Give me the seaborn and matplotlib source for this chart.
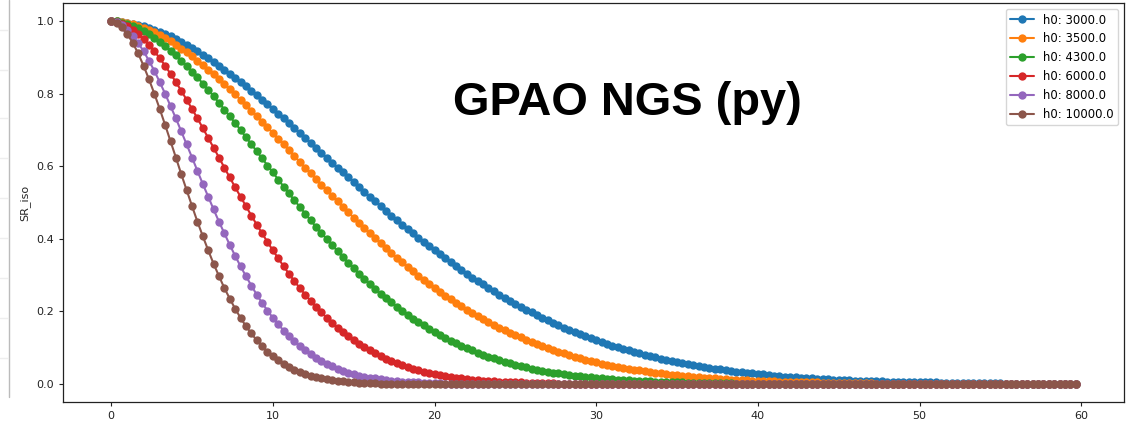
import numpy as np
import pandas as pd
import matplotlib
matplotlib.use("Agg")
import matplotlib.pyplot as plt
from matplotlib.lines import Line2D
import seaborn as sns

# angular separation grid (step 1/3), 180 samples
angles = np.arange(180) / 3.0

h0_labels = ["h0: 3000.0", "h0: 3500.0", "h0: 4300.0", "h0: 6000.0", "h0: 8000.0", "h0: 10000.0"]

sr_h3000 = [
    1.000, 0.999, 0.998, 0.996, 0.993, 0.990, 0.986, 0.981, 0.976, 0.971,
    0.964, 0.958, 0.950, 0.943, 0.935, 0.926, 0.917, 0.908, 0.898, 0.888,
    0.877, 0.866, 0.855, 0.844, 0.832, 0.820, 0.808, 0.796, 0.783, 0.771,
    0.758, 0.745, 0.732, 0.718, 0.705, 0.691, 0.678, 0.664, 0.651, 0.637,
    0.624, 0.610, 0.596, 0.583, 0.569, 0.556, 0.542, 0.529, 0.516, 0.503,
    0.490, 0.477, 0.464, 0.452, 0.439, 0.427, 0.415, 0.403, 0.391, 0.379,
    0.368, 0.357, 0.346, 0.335, 0.324, 0.314, 0.303, 0.293, 0.283, 0.274,
    0.264, 0.255, 0.246, 0.238, 0.229, 0.221, 0.213, 0.205, 0.197, 0.189,
    0.182, 0.175, 0.168, 0.162, 0.155, 0.149, 0.143, 0.137, 0.131, 0.126,
    0.120, 0.115, 0.110, 0.105, 0.101, 0.096, 0.092, 0.088, 0.084, 0.080,
    0.076, 0.073, 0.069, 0.066, 0.063, 0.060, 0.057, 0.054, 0.051, 0.049,
    0.046, 0.044, 0.042, 0.040, 0.038, 0.036, 0.034, 0.032, 0.030, 0.029,
    0.027, 0.026, 0.024, 0.023, 0.022, 0.020, 0.019, 0.018, 0.017, 0.016,
    0.015, 0.014, 0.014, 0.013, 0.012, 0.011, 0.011, 0.010, 0.009, 0.009,
    0.008, 0.008, 0.007, 0.007, 0.006, 0.006, 0.006, 0.005, 0.005, 0.005,
    0.004, 0.004, 0.004, 0.004, 0.003, 0.003, 0.003, 0.003, 0.002, 0.002,
    0.002, 0.002, 0.002, 0.002, 0.002, 0.002, 0.001, 0.001, 0.001, 0.001,
    0.001, 0.001, 0.001, 0.001, 0.001, 0.001, 0.001, 0.001, 0.001, 0.001,
]

sr_h3500 = [
    1.000, 0.999, 0.998, 0.995, 0.991, 0.987, 0.981, 0.975, 0.969, 0.961,
    0.953, 0.944, 0.935, 0.924, 0.914, 0.903, 0.891, 0.879, 0.866, 0.853,
    0.840, 0.826, 0.812, 0.798, 0.783, 0.769, 0.753, 0.738, 0.723, 0.707,
    0.691, 0.676, 0.660, 0.644, 0.628, 0.612, 0.596, 0.581, 0.565, 0.549,
    0.534, 0.518, 0.503, 0.488, 0.473, 0.458, 0.443, 0.429, 0.415, 0.401,
    0.387, 0.374, 0.360, 0.347, 0.335, 0.322, 0.310, 0.298, 0.287, 0.275,
    0.264, 0.254, 0.243, 0.233, 0.223, 0.214, 0.205, 0.196, 0.187, 0.179,
    0.171, 0.163, 0.155, 0.148, 0.141, 0.134, 0.128, 0.121, 0.115, 0.109,
    0.104, 0.099, 0.093, 0.089, 0.084, 0.079, 0.075, 0.071, 0.067, 0.063,
    0.060, 0.056, 0.053, 0.050, 0.047, 0.045, 0.042, 0.039, 0.037, 0.035,
    0.033, 0.031, 0.029, 0.027, 0.025, 0.024, 0.022, 0.021, 0.019, 0.018,
    0.017, 0.016, 0.015, 0.014, 0.013, 0.012, 0.011, 0.010, 0.010, 0.009,
    0.008, 0.008, 0.007, 0.007, 0.006, 0.006, 0.005, 0.005, 0.005, 0.004,
    0.004, 0.004, 0.003, 0.003, 0.003, 0.003, 0.002, 0.002, 0.002, 0.002,
    0.002, 0.002, 0.001, 0.001, 0.001, 0.001, 0.001, 0.001, 0.001, 0.001,
    0.001, 0.001, 0.001, 0.001, 0.0, 0.0, 0.0, 0.0, 0.0, 0.0,
    0.0, 0.0, 0.0, 0.0, 0.0, 0.0, 0.0, 0.0, 0.0, 0.0,
    0.0, 0.0, 0.0, 0.0, 0.0, 0.0, 0.0, 0.0, 0.0, 0.0,
]

sr_h4300 = [
    1.000, 0.999, 0.996, 0.992, 0.987, 0.981, 0.973, 0.964, 0.954, 0.943,
    0.932, 0.919, 0.906, 0.891, 0.876, 0.861, 0.845, 0.828, 0.811, 0.793,
    0.775, 0.756, 0.738, 0.719, 0.700, 0.680, 0.661, 0.641, 0.622, 0.602,
    0.583, 0.563, 0.544, 0.525, 0.506, 0.488, 0.469, 0.451, 0.433, 0.416,
    0.399, 0.382, 0.366, 0.350, 0.334, 0.319, 0.304, 0.290, 0.276, 0.262,
    0.249, 0.237, 0.225, 0.213, 0.202, 0.191, 0.180, 0.170, 0.161, 0.152,
    0.143, 0.134, 0.126, 0.119, 0.112, 0.105, 0.098, 0.092, 0.086, 0.080,
    0.075, 0.070, 0.065, 0.061, 0.057, 0.053, 0.049, 0.046, 0.042, 0.039,
    0.036, 0.034, 0.031, 0.029, 0.027, 0.025, 0.023, 0.021, 0.019, 0.018,
    0.016, 0.015, 0.014, 0.013, 0.011, 0.011, 0.010, 0.009, 0.008, 0.007,
    0.007, 0.006, 0.006, 0.005, 0.005, 0.004, 0.004, 0.003, 0.003, 0.003,
    0.003, 0.002, 0.002, 0.002, 0.002, 0.002, 0.001, 0.001, 0.001, 0.001,
    0.001, 0.001, 0.001, 0.001, 0.001, 0.001, 0.0, 0.0, 0.0, 0.0,
    0.0, 0.0, 0.0, 0.0, 0.0, 0.0, 0.0, 0.0, 0.0, 0.0,
    0.0, 0.0, 0.0, 0.0, 0.0, 0.0, 0.0, 0.0, 0.0, 0.0,
    0.0, 0.0, 0.0, 0.0, 0.0, 0.0, 0.0, 0.0, 0.0, 0.0,
    0.0, 0.0, 0.0, 0.0, 0.0, 0.0, 0.0, 0.0, 0.0, 0.0,
    0.0, 0.0, 0.0, 0.0, 0.0, 0.0, 0.0, 0.0, 0.0, 0.0,
]

sr_h6000 = [
    1.000, 0.998, 0.993, 0.986, 0.976, 0.964, 0.950, 0.935, 0.917, 0.898,
    0.877, 0.855, 0.832, 0.808, 0.783, 0.758, 0.732, 0.705, 0.678, 0.651,
    0.624, 0.596, 0.569, 0.542, 0.516, 0.490, 0.464, 0.439, 0.415, 0.391,
    0.368, 0.346, 0.324, 0.303, 0.283, 0.264, 0.246, 0.229, 0.213, 0.197,
    0.182, 0.168, 0.155, 0.143, 0.131, 0.120, 0.110, 0.101, 0.092, 0.084,
    0.076, 0.069, 0.063, 0.057, 0.051, 0.046, 0.042, 0.038, 0.034, 0.030,
    0.027, 0.024, 0.022, 0.019, 0.017, 0.015, 0.014, 0.012, 0.011, 0.009,
    0.008, 0.007, 0.006, 0.006, 0.005, 0.004, 0.004, 0.003, 0.003, 0.002,
    0.002, 0.002, 0.002, 0.001, 0.001, 0.001, 0.001, 0.001, 0.001, 0.001,
    0.0, 0.0, 0.0, 0.0, 0.0, 0.0, 0.0, 0.0, 0.0, 0.0,
    0.0, 0.0, 0.0, 0.0, 0.0, 0.0, 0.0, 0.0, 0.0, 0.0,
    0.0, 0.0, 0.0, 0.0, 0.0, 0.0, 0.0, 0.0, 0.0, 0.0,
    0.0, 0.0, 0.0, 0.0, 0.0, 0.0, 0.0, 0.0, 0.0, 0.0,
    0.0, 0.0, 0.0, 0.0, 0.0, 0.0, 0.0, 0.0, 0.0, 0.0,
    0.0, 0.0, 0.0, 0.0, 0.0, 0.0, 0.0, 0.0, 0.0, 0.0,
    0.0, 0.0, 0.0, 0.0, 0.0, 0.0, 0.0, 0.0, 0.0, 0.0,
    0.0, 0.0, 0.0, 0.0, 0.0, 0.0, 0.0, 0.0, 0.0, 0.0,
    0.0, 0.0, 0.0, 0.0, 0.0, 0.0, 0.0, 0.0, 0.0, 0.0,
]

sr_h8000 = [
    1.000, 0.997, 0.989, 0.976, 0.960, 0.940, 0.917, 0.891, 0.863, 0.832,
    0.800, 0.766, 0.732, 0.696, 0.660, 0.624, 0.587, 0.551, 0.516, 0.481,
    0.447, 0.415, 0.383, 0.353, 0.324, 0.297, 0.271, 0.246, 0.223, 0.202,
    0.182, 0.164, 0.147, 0.131, 0.117, 0.104, 0.092, 0.081, 0.072, 0.063,
    0.055, 0.048, 0.042, 0.036, 0.031, 0.027, 0.023, 0.020, 0.017, 0.015,
    0.013, 0.011, 0.009, 0.008, 0.006, 0.005, 0.005, 0.004, 0.003, 0.003,
    0.002, 0.002, 0.001, 0.001, 0.001, 0.001, 0.001, 0.001, 0.0, 0.0,
    0.0, 0.0, 0.0, 0.0, 0.0, 0.0, 0.0, 0.0, 0.0, 0.0,
    0.0, 0.0, 0.0, 0.0, 0.0, 0.0, 0.0, 0.0, 0.0, 0.0,
    0.0, 0.0, 0.0, 0.0, 0.0, 0.0, 0.0, 0.0, 0.0, 0.0,
    0.0, 0.0, 0.0, 0.0, 0.0, 0.0, 0.0, 0.0, 0.0, 0.0,
    0.0, 0.0, 0.0, 0.0, 0.0, 0.0, 0.0, 0.0, 0.0, 0.0,
    0.0, 0.0, 0.0, 0.0, 0.0, 0.0, 0.0, 0.0, 0.0, 0.0,
    0.0, 0.0, 0.0, 0.0, 0.0, 0.0, 0.0, 0.0, 0.0, 0.0,
    0.0, 0.0, 0.0, 0.0, 0.0, 0.0, 0.0, 0.0, 0.0, 0.0,
    0.0, 0.0, 0.0, 0.0, 0.0, 0.0, 0.0, 0.0, 0.0, 0.0,
    0.0, 0.0, 0.0, 0.0, 0.0, 0.0, 0.0, 0.0, 0.0, 0.0,
    0.0, 0.0, 0.0, 0.0, 0.0, 0.0, 0.0, 0.0, 0.0, 0.0,
]

sr_h10000 = [
    1.000, 0.995, 0.983, 0.964, 0.940, 0.911, 0.877, 0.840, 0.800, 0.758,
    0.714, 0.669, 0.624, 0.578, 0.534, 0.490, 0.447, 0.407, 0.368, 0.331,
    0.297, 0.264, 0.235, 0.207, 0.182, 0.159, 0.139, 0.120, 0.104, 0.089,
    0.076, 0.065, 0.055, 0.046, 0.039, 0.033, 0.027, 0.023, 0.019, 0.015,
    0.013, 0.010, 0.008, 0.007, 0.005, 0.004, 0.003, 0.003, 0.002, 0.002,
    0.001, 0.001, 0.001, 0.001, 0.0, 0.0, 0.0, 0.0, 0.0, 0.0,
    0.0, 0.0, 0.0, 0.0, 0.0, 0.0, 0.0, 0.0, 0.0, 0.0,
    0.0, 0.0, 0.0, 0.0, 0.0, 0.0, 0.0, 0.0, 0.0, 0.0,
    0.0, 0.0, 0.0, 0.0, 0.0, 0.0, 0.0, 0.0, 0.0, 0.0,
    0.0, 0.0, 0.0, 0.0, 0.0, 0.0, 0.0, 0.0, 0.0, 0.0,
    0.0, 0.0, 0.0, 0.0, 0.0, 0.0, 0.0, 0.0, 0.0, 0.0,
    0.0, 0.0, 0.0, 0.0, 0.0, 0.0, 0.0, 0.0, 0.0, 0.0,
    0.0, 0.0, 0.0, 0.0, 0.0, 0.0, 0.0, 0.0, 0.0, 0.0,
    0.0, 0.0, 0.0, 0.0, 0.0, 0.0, 0.0, 0.0, 0.0, 0.0,
    0.0, 0.0, 0.0, 0.0, 0.0, 0.0, 0.0, 0.0, 0.0, 0.0,
    0.0, 0.0, 0.0, 0.0, 0.0, 0.0, 0.0, 0.0, 0.0, 0.0,
    0.0, 0.0, 0.0, 0.0, 0.0, 0.0, 0.0, 0.0, 0.0, 0.0,
    0.0, 0.0, 0.0, 0.0, 0.0, 0.0, 0.0, 0.0, 0.0, 0.0,
]

series_values = [sr_h3000, sr_h3500, sr_h4300, sr_h6000, sr_h8000, sr_h10000]
colors = ["#1f77b4", "#ff7f0e", "#2ca02c", "#d62728", "#9467bd", "#8c564b"]

frames = []
for lab, vals in zip(h0_labels, series_values):
    d = pd.DataFrame({"x": angles, "SR_iso": vals})
    d["h0"] = lab
    frames.append(d)
df = pd.concat(frames, ignore_index=True)

sns.set_style("ticks")
plt.rcParams['font.family'] = ['DejaVu Sans']
plt.rcParams['text.color'] = 'black'

fig = plt.figure(figsize=(11.42, 4.24), dpi=100)
ax = fig.add_axes([63/1142, 1-402/424, (1124-63)/1142, (402-3)/424])
sns.lineplot(data=df, x="x", y="SR_iso", hue="h0", hue_order=h0_labels, palette=colors,
             marker="o", markersize=6.0, markeredgewidth=0, linewidth=1.5, ax=ax)
handles, labels = ax.get_legend_handles_labels()
ax.legend(handles, labels, loc="upper right", fontsize=8.4, frameon=True)
ax.set_xlabel("")
ax.set_ylabel("SR_iso", fontsize=8)
ax.set_xticks([0, 10, 20, 30, 40, 50, 60])
ax.tick_params(labelsize=8, length=3, width=0.8, colors="#222222")
for s in ax.spines.values():
    s.set_color("#222222")
    s.set_linewidth(0.9)
ax.text(21.15, 0.74, "GPAO NGS (py)", fontsize=33.8, fontweight="bold", color="black",
        family="Liberation Sans", ha="left", va="baseline")

# neighbouring-panel edge visible at the far left of the screenshot
fig.add_artist(Line2D([9/1142, 9/1142], [1 - 397/424, 1], color="#bbbbbb", lw=1))
for yy in [30, 70, 118, 158, 198, 238, 278, 318, 358]:
    fig.add_artist(Line2D([0, 8/1142], [1 - yy/424, 1 - yy/424], color="#eeeeee", lw=1))

fig.savefig("out.png", dpi=100)
